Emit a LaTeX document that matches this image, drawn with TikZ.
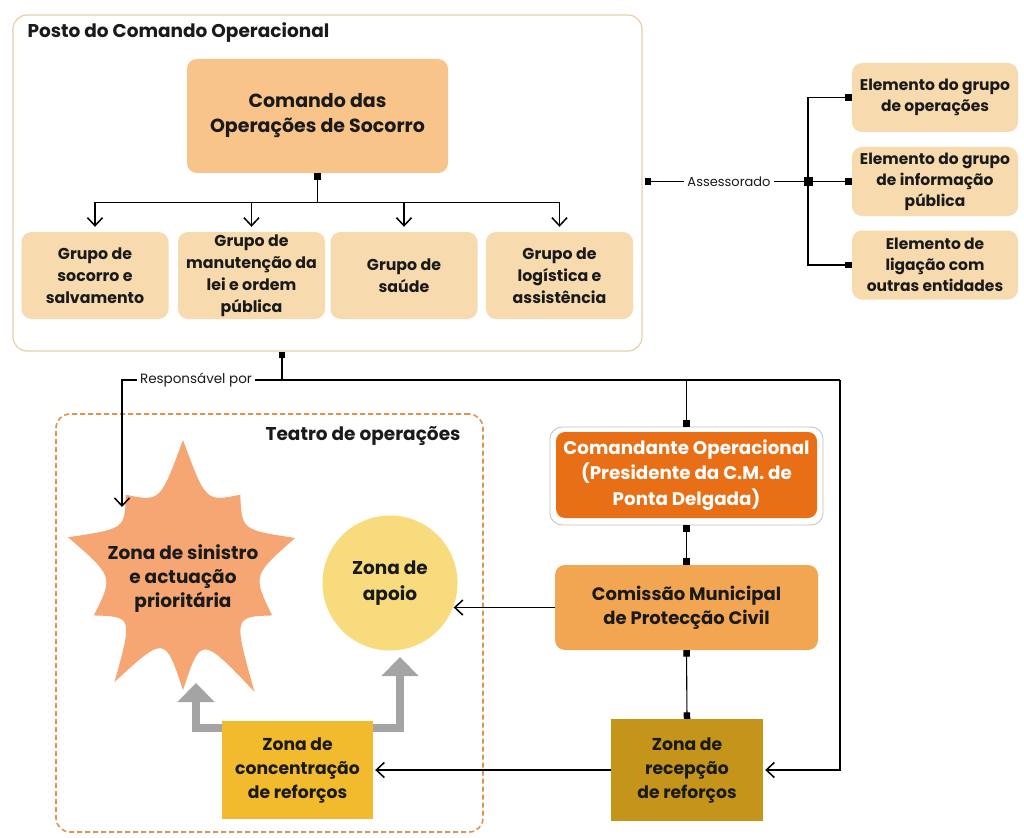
\documentclass[tikz,border=0pt]{standalone}
\usepackage{fontspec}
\setmainfont{Poppins}
\usetikzlibrary{arrows.meta,calc}
\definecolor{panelc}{HTML}{E6CFAE}
\definecolor{cosc}{HTML}{F8C489}
\definecolor{grpc}{HTML}{F7DBAE}
\definecolor{cmdc}{HTML}{E96F16}
\definecolor{comc}{HTML}{F3A652}
\definecolor{starc}{HTML}{F5A672}
\definecolor{apoioc}{HTML}{F8DB7C}
\definecolor{concc}{HTML}{F2BB2E}
\definecolor{recc}{HTML}{C4951A}
\definecolor{dashc}{HTML}{DE9350}
\definecolor{txtc}{HTML}{1A1A1A}
\definecolor{grayarr}{HTML}{A4A4A4}
\newcommand{\fsz}[2]{\fontsize{#1}{#2}\selectfont}
\tikzset{
  sqm/.tip={Square[length=6.5pt,width=6.5pt]},
  barbm/.tip={Straight Barb[length=8pt,width=15pt,line width=1.5pt]}
}
\begin{document}
\begin{tikzpicture}[x=1pt,y=-1pt,
  every node/.style={text=txtc},
  softbox/.style={rounded corners=10pt, align=center, inner sep=1pt, font=\bfseries\fsz{15.8}{22}},
  grpbox/.style={softbox, fill=grpc, minimum width=147pt, minimum height=87pt},
  elbox/.style={softbox, fill=grpc, minimum width=166pt, minimum height=69pt, font=\bfseries\fsz{15.5}{21}},
  conn/.style={draw=black, line width=1.1pt},
  arr/.style={conn, -barbm},
  lbl/.style={fill=white, inner sep=3pt},
  garr/.style={draw=grayarr, line width=8pt, -{Triangle[width=36pt,length=19pt]}}
]
\useasboundingbox (0,0) rectangle (1024,837);
\fill[white] (0,0) rectangle (1024,837);

% ---- Posto do Comando Operacional
\node[draw=panelc, line width=1.2pt, rounded corners=14pt, minimum width=629pt, minimum height=336pt] (panel) at (327.5,183) {};
\node[anchor=west, font=\bfseries\fsz{18.5}{20}] (ptitle) at (24,33) {Posto do Comando Operacional};
\node[softbox, fill=cosc, minimum width=261pt, minimum height=114pt, font=\bfseries\fsz{19}{25}] (cos) at (317.5,116) {Comando das\\Operações de Socorro};
\node[grpbox] (g1) at (95,275.5) {Grupo de\\socorro e\\salvamento};
\node[grpbox] (g2) at (251.5,275.5) {Grupo de\\manutenção da\\lei e ordem\\pública};
\node[grpbox] (g3) at (404,275.5) {Grupo de\\saúde};
\node[grpbox] (g4) at (559.5,275.5) {Grupo de\\logística e\\assistência};
\draw[conn, sqm-] (cos.south) -- ++(0,29) coordinate (bus1);
\foreach \g in {g1,g2,g3,g4} \draw[arr] (bus1) -| ([yshift=5pt]\g.north);

% ---- Assessorado
\node[elbox] (e1) at (935,97.5) {Elemento do grupo\\de operações};
\node[elbox] (e2) at (935,181.5) {Elemento do grupo\\de informação\\pública};
\node[elbox] (e3) at (935,265) {Elemento de\\ligação com\\outras entidades};
\coordinate (aleft) at ($(panel.east |- e2.west)+(2,0)$);
\coordinate (j) at (808,181.5);
\draw[conn, sqm-] (aleft) -- (j);
\node[lbl, font=\fsz{13}{15}] (asse) at (729,181.5) {Assessorado};
\fill (j) +(-4.5,-4.5) rectangle +(4.5,4.5);
\draw[conn, -sqm] (j) |- (e1.west);
\draw[conn, -sqm] (j) -- (e2.west);
\draw[conn, -sqm] (j) |- (e3.west);

% ---- Teatro de operações
\node[draw=dashc, line width=1.6pt, dash pattern=on 5pt off 3pt, rounded corners=14pt, minimum width=427pt, minimum height=418pt] (teatro) at (269.5,623) {};
\node[anchor=east, font=\bfseries\fsz{18.5}{20}] (ttitle) at (464,436) {Teatro de operações};

% star
\coordinate (sc) at (183,568);
\fill[starc] ($(sc)+(-90:128)$)
  .. controls ($(sc)+(-71:70)$) .. ($(sc)+(-52:93)$)
  .. controls ($(sc)+(-33:70)$) .. ($(sc)+(-15:116)$)
  .. controls ($(sc)+(6:70)$) .. ($(sc)+(28:101)$)
  .. controls ($(sc)+(44:70)$) .. ($(sc)+(60:143)$)
  .. controls ($(sc)+(75:70)$) .. ($(sc)+(90:122)$)
  .. controls ($(sc)+(105:70)$) .. ($(sc)+(121:133)$)
  .. controls ($(sc)+(136:70)$) .. ($(sc)+(152:101)$)
  .. controls ($(sc)+(173:70)$) .. ($(sc)+(195:119)$)
  .. controls ($(sc)+(214:70)$) .. ($(sc)+(232:93)$)
  .. controls ($(sc)+(251:70)$) .. cycle;
\node[align=center, font=\bfseries\fsz{18.5}{24}] (star) at (183,579) {Zona de sinistro\\e actuação\\prioritária};
\node[circle, fill=apoioc, minimum size=135pt, inner sep=0pt, align=center, font=\bfseries\fsz{18.5}{26}] (apoio) at (390,583) {Zona de\\apoio};
\node[fill=concc, minimum width=151pt, minimum height=98pt, align=center, inner sep=0pt, font=\bfseries\fsz{17.2}{24}] (conc) at (297.5,770) {Zona de\\concentração\\de reforços};

% gray arrows
\coordinate (gl) at (196,683);
\coordinate (gr) at (400,657);
\draw[garr] ($(conc.north west)+(0,7)$) -| (gl);
\draw[garr] ($(conc.north east)+(0,7)$) -| (gr);

% ---- right column
\node[draw=black!25, line width=0.8pt, fill=white, rounded corners=12pt, minimum width=273pt, minimum height=98pt] (cmdo) at (686.5,476) {};
\node[softbox, fill=cmdc, text=white, rounded corners=9pt, minimum width=261pt, minimum height=86pt, font=\bfseries\fsz{18.3}{25.5}] (cmd) at (686.5,475) {Comandante Operacional\\(Presidente da C.M. de\\Ponta Delgada)};
\node[softbox, fill=comc, minimum width=263pt, minimum height=85pt, font=\bfseries\fsz{18}{24}] (com) at (686.5,607.5) {Comissão Municipal\\de Protecção Civil};
\node[fill=recc, minimum width=152pt, minimum height=102pt, align=center, inner sep=0pt, font=\bfseries\fsz{17.2}{24}] (rec) at (687,770) {Zona de\\recepção\\de reforços};

% ---- bottom connectors
\coordinate (pb) at (panel.south -| 282,0);
\draw[conn, sqm-] (pb) -- (pb |- 0,380) coordinate (bus2);
\coordinate (busL) at (122,380);
\coordinate (busR) at (840,380);
\coordinate (starin) at (122,507);
\draw[conn] (bus2) -- (busR);
\draw[arr] (bus2) -- (busL) -- (starin);
\node[lbl, font=\fsz{13.5}{15}] (resp) at (196,380) {Responsável por};
\draw[conn, -sqm] (bus2 -| cmdo.north) -- (cmdo.north);
\draw[conn, sqm-sqm] (cmdo.south) -- (com.north);
\draw[arr] (com.west) -- ($(com.west -| apoio.east)+(-4,0)$);
\draw[conn, sqm-sqm] (com.south) -- (rec.north);
\draw[arr] (rec.west) -- ([xshift=2pt]conc.east);
\draw[arr] (busR) |- ([xshift=2pt]rec.east);
\end{tikzpicture}
\end{document}
